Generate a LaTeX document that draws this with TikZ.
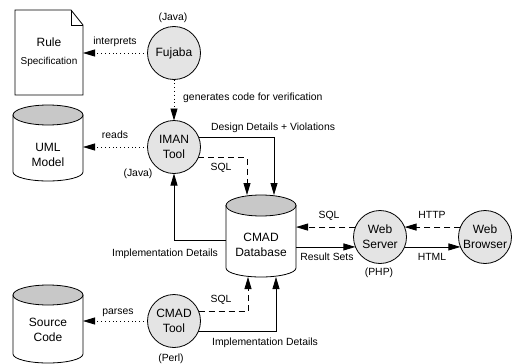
\documentclass[tikz,border=0pt]{standalone}
\usepackage{fontspec}
\setmainfont{Liberation Sans}
\usetikzlibrary{arrows.meta,backgrounds,calc}

\definecolor{procfill}{RGB}{228,228,228}
\definecolor{capfill}{RGB}{200,200,200}

\tikzset{
  proc/.style={circle, draw, line width=0.8pt, fill=procfill, minimum size=53pt,
    inner sep=0pt, outer sep=0pt, align=center, font=\fontsize{12}{15}\selectfont},
  store/.style={rectangle, draw=none, minimum width=70pt, inner sep=0pt, outer sep=0pt},
  docbox/.style={rectangle, draw=none, minimum width=68pt, minimum height=85pt,
    inner sep=0pt, outer sep=0pt, align=center, font=\fontsize{12}{15}\selectfont},
  storetext/.style={align=center, inner sep=0pt, font=\fontsize{12}{15}\selectfont},
  lbl/.style={inner sep=0pt, text height=7.5pt, text depth=0pt,
    font=\fontsize{10.4}{12.5}\selectfont},
  flow/.style={line width=0.8pt, -{Triangle[length=12pt,width=7pt]}},
  solidflow/.style={flow},
  dashflow/.style={flow, dash pattern=on 6pt off 4pt},
  dotflow/.style={flow, dash pattern=on 0.8pt off 3pt},
}

% cylinder outline for a store node: #1 node, #2 top cap radius, #3 bottom cap radius
\newcommand\cylbody[3]{%
  \path[draw=black, line width=0.8pt, fill=white]
    ([yshift=-#2pt]#1.north west) -- ([yshift=#3pt]#1.south west)
    arc[start angle=180, end angle=360, x radius=35pt, y radius=#3pt]
    -- ([yshift=-#2pt]#1.north east) -- cycle;
  \path[draw=black, line width=0.8pt, fill=capfill]
    ([yshift=-#2pt]#1.north) ellipse[x radius=35pt, y radius=#2pt];
}

\begin{document}
\begin{tikzpicture}[x=1pt, y=1pt]
\useasboundingbox (0,0) rectangle (514,-364);

% documents and stores
\node[docbox] (RS) at (49,-52.5) {Rule\\[3pt]{\fontsize{10}{12}\selectfont Specification}};
\node[store, minimum height=76pt] (UML) at (48,-143) {};
\node[store, minimum height=78pt] (SC) at (48,-324) {};
\node[store, minimum height=82pt] (DB) at (261,-236) {};
\node[storetext] (UMLtext) at (48,-155) {UML\\Model};
\node[storetext] (SCtext) at (48,-330) {Source\\Code};
\node[storetext] (DBtext) at (261,-245) {CMAD\\Database};

% processes
\node[proc] (FJ) at (174,-53) {Fujaba};
\node[proc] (IM) at (174,-147) {IMAN\\Tool};
\node[proc] (CT) at (174,-321) {CMAD\\Tool};
\node[proc] (WS) at (380,-237) {Web\\Server};
\node[proc] (WB) at (485,-237) {Web\\Browser};

\begin{scope}[on background layer]
  \draw[line width=0.8pt, fill=white]
    (RS.north west) -- ([xshift=-12pt]RS.north east) -- ([yshift=-15pt]RS.north east)
    -- (RS.south east) -- (RS.south west) -- cycle;
  \draw[line width=0.8pt] ([xshift=-12pt]RS.north east) |- ([yshift=-15pt]RS.north east);
  \cylbody{UML}{10}{9}
  \cylbody{SC}{10}{9}
  \cylbody{DB}{10.5}{9}
\end{scope}

% connectors
\draw[dotflow] (FJ.west) -- (FJ.west -| RS.east);
\draw[dotflow] (FJ.south) -- (IM.north);
\draw[dotflow] (IM.west) -- (IM.west -| UML.east);
\draw[solidflow] (IM.22) -| ([xshift=13pt]DB.north);
\draw[dashflow] (IM.-24) -| ([xshift=-14pt]DB.north);
\draw[solidflow] ([yshift=-4pt]DB.west) -| (IM.south);
\draw[dashflow] (WS.158) -- (WS.158 -| DB.east);
\draw[dashflow] (WB.158) -- (WS.22);
\draw[solidflow] (WS.202 -| DB.east) -- (WS.202);
\draw[solidflow] (WS.-22) -- (WB.202);
\draw[dotflow] (CT.west) -- (CT.west -| SC.east);
\draw[dashflow] (CT.22) -| ([xshift=-13pt]DB.south);
\draw[solidflow] (CT.-24) -| ([xshift=15pt]DB.south);

% labels
\node[lbl] (lang1) at (173,-17) {(Java)};
\node[lbl] (interp) at (115,-41) {interprets};
\node[lbl, anchor=west] (gen) at (183,-97) {generates code for verification};
\node[lbl] (reads) at (115,-135) {reads};
\node[lbl, anchor=west] (design) at (211,-127) {Design Details + Violations};
\node[lbl] (sql1) at (221,-167) {SQL};
\node[lbl] (lang2) at (138,-173) {(Java)};
\node[lbl] (impl1) at (165,-253) {Implementation Details};
\node[lbl] (sql2) at (329,-215) {SQL};
\node[lbl] (http) at (432,-215) {HTTP};
\node[lbl] (rsets) at (327,-257) {Result Sets};
\node[lbl] (html) at (432,-257) {HTML};
\node[lbl] (lang3) at (379,-272) {(PHP)};
\node[lbl] (parses) at (118,-311) {parses};
\node[lbl] (sql3) at (221,-299) {SQL};
\node[lbl] (impl2) at (265,-342) {Implementation Details};
\node[lbl] (lang4) at (171,-358) {(Perl)};
\end{tikzpicture}
\end{document}
